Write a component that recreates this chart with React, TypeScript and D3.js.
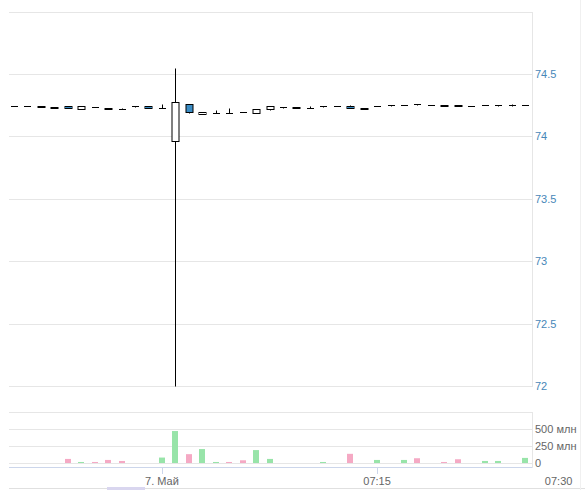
import React from "react";
import * as d3 from "d3";

const opens = [74.244, 74.246, 74.242, 74.232, 74.246, 74.222, 74.234, 74.224, 74.222, 74.244, 74.246, 74.229, 73.963, 74.258, 74.181, 74.185, 74.188, 74.198, 74.185, 74.217, 74.238, 74.233, 74.230, 74.246, 74.247, 74.245, 74.227, 74.242, 74.252, 74.251, 74.262, 74.252, 74.248, 74.248, 74.247, 74.250, 74.250, 74.250, 74.250];
const highs = [74.244, 74.246, 74.242, 74.234, 74.246, 74.240, 74.238, 74.224, 74.230, 74.245, 74.246, 74.260, 74.548, 74.258, 74.199, 74.210, 74.225, 74.198, 74.217, 74.244, 74.238, 74.233, 74.243, 74.246, 74.247, 74.250, 74.227, 74.246, 74.252, 74.252, 74.262, 74.252, 74.254, 74.248, 74.247, 74.252, 74.254, 74.256, 74.252];
const lows = [74.244, 74.246, 74.234, 74.228, 74.228, 74.222, 74.232, 74.220, 74.220, 74.238, 74.230, 74.229, 72.0, 74.186, 74.181, 74.185, 74.186, 74.192, 74.185, 74.210, 74.228, 74.228, 74.230, 74.238, 74.243, 74.226, 74.222, 74.242, 74.246, 74.251, 74.255, 74.252, 74.246, 74.243, 74.243, 74.250, 74.246, 74.245, 74.250];
const closes = [74.244, 74.246, 74.236, 74.228, 74.230, 74.240, 74.232, 74.220, 74.220, 74.244, 74.230, 74.231, 74.276, 74.199, 74.199, 74.186, 74.186, 74.193, 74.217, 74.244, 74.238, 74.229, 74.230, 74.246, 74.243, 74.230, 74.223, 74.246, 74.252, 74.252, 74.256, 74.252, 74.246, 74.244, 74.244, 74.252, 74.251, 74.249, 74.252];
const volumes = [0, 0, 0, 0, 60, 15, 15, 45, 30, 0, 0, 80, 470, 130, 205, 15, 15, 40, 190, 60, 0, 0, 0, 15, 0, 135, 0, 45, 0, 45, 70, 0, 15, 55, 0, 30, 30, 0, 75];

const priceTicks = [72, 72.5, 73, 73.5, 74, 74.5, 75];
const priceTickLabels = ["72", "72.5", "73", "73.5", "74", "74.5", ""];
const volTicks = [0, 250, 500, 750];
const volTickLabels = ["0", "250 млн", "500 млн", ""];
const xTickIdx = [11, 27, 40.5];
const xTickLabels = ["7. Май", "07:15", "07:30"];

const W = 585;
const H = 490;
const plotL = 9;
const plotR = 532;
const font = "'Liberation Sans', Arial, sans-serif";

export default function App() {
  const n = opens.length;
  const x = d3.scaleLinear().domain([0, n - 1]).range([14, 525]);
  const y = d3.scaleLinear().domain([72, 74.5]).range([386, 74]);
  const yv = d3.scaleLinear().domain([0, 750]).range([463, 412]);
  const bodyW = 7;
  const volW = 6;
  const grid = "#e6e6e6";
  const downFill = "#3a8cc4";
  const green = "#98e4a9";
  const pink = "#f5a9c4";
  const idx = d3.range(n);

  return (
    <svg
      width={W}
      height={H}
      style={{ position: "fixed", left: 0, top: 0, background: "#fff" }}
      fontFamily={font}
    >
      <rect x={0} y={0} width={W} height={H} fill="#fff" />
      {priceTicks.map((t) => (
        <line key={"g" + t} x1={plotL} x2={plotR} y1={Math.round(y(t)) + 0.5} y2={Math.round(y(t)) + 0.5} stroke={grid} />
      ))}
      <line x1={plotR + 0.5} x2={plotR + 0.5} y1={Math.round(y(75))} y2={Math.round(y(72)) + 1} stroke={grid} />
      {priceTicks.map((t, i) => (
        <text key={"l" + t} x={535} y={y(t) + 4} fontSize={11} fill="#4787b8">
          {priceTickLabels[i]}
        </text>
      ))}
      {volTicks.map((t) => (
        <line key={"vg" + t} x1={plotL} x2={plotR} y1={Math.round(yv(t)) + 0.5} y2={Math.round(yv(t)) + 0.5} stroke={grid} />
      ))}
      <line x1={plotR + 0.5} x2={plotR + 0.5} y1={Math.round(yv(750))} y2={468} stroke={grid} />
      {volTicks.map((t, i) => (
        <text key={"vl" + t} x={535} y={yv(t) + 4} fontSize={11} fill="#666">
          {volTickLabels[i]}
        </text>
      ))}
      {idx.map((i) =>
        volumes[i] > 0 ? (
          <rect
            key={"v" + i}
            x={Math.round(x(i) - volW / 2)}
            y={yv(volumes[i])}
            width={volW}
            height={yv(0) - yv(volumes[i])}
            fill={closes[i] >= opens[i] ? green : pink}
          />
        ) : null
      )}
      <line x1={plotL} x2={plotR} y1={467.5} y2={467.5} stroke="#ccd6eb" />
      {xTickIdx.map((t, i) => (
        <g key={"xt" + i}>
          {x(t) <= plotR ? (
            <line x1={Math.round(x(t)) + 0.5} x2={Math.round(x(t)) + 0.5} y1={468} y2={474} stroke="#ccd6eb" />
          ) : null}
          <text x={x(t)} y={485} fontSize={11} fill="#666" textAnchor="middle">
            {xTickLabels[i]}
          </text>
        </g>
      ))}
      {idx.map((i) => {
        const cx = Math.round(x(i)) + 0.5;
        const top = Math.round(y(Math.max(opens[i], closes[i]))) + 0.5;
        const bot = Math.round(y(Math.min(opens[i], closes[i]))) + 0.5;
        const hi = Math.round(y(highs[i])) + 0.5;
        const lo = Math.round(y(lows[i])) + 0.5;
        const up = closes[i] >= opens[i];
        const h = bot - top;
        return (
          <g key={"c" + i}>
            {hi < top ? <line x1={cx} x2={cx} y1={hi} y2={top} stroke="#000" /> : null}
            {lo > bot ? <line x1={cx} x2={cx} y1={bot} y2={lo} stroke="#000" /> : null}
            {h < 1 ? (
              <line x1={cx - bodyW / 2} x2={cx + bodyW / 2} y1={top} y2={top} stroke="#000" />
            ) : (
              <rect
                x={cx - bodyW / 2}
                y={top}
                width={bodyW}
                height={h}
                fill={up ? "#fff" : downFill}
                stroke="#000"
                strokeWidth={1}
              />
            )}
          </g>
        );
      })}
      <line x1={plotL} x2={W} y1={488.5} y2={488.5} stroke="#e0e0e0" />
      <rect x={107} y={487} width={38} height={3} fill="#d9d6ef" />
      <line x1={580.5} x2={580.5} y1={0} y2={H} stroke="#f0f0f0" />
    </svg>
  );
}
